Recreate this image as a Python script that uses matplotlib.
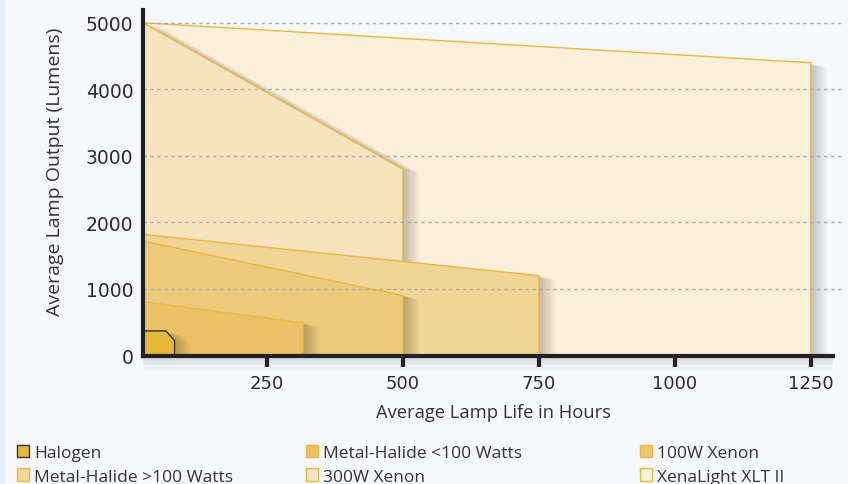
import matplotlib.pyplot as plt
from matplotlib.patches import Polygon, Patch
from matplotlib.transforms import offset_copy

# lamp data: (hours, lumens) outline points, drawn back to front
series_names = ["XenaLight XLT II", "300W Xenon", "100W Xenon",
                "Metal-Halide >100 Watts", "Metal-Halide <100 Watts", "Halogen"]
xenalight_hours = [22, 1250, 1250, 22]
xenalight_lumens = [5000, 4400, 0, 0]
xenon300_hours = [22, 500, 500, 22]
xenon300_lumens = [5000, 2800, 0, 0]
xenon100_hours = [22, 750, 750, 22]
xenon100_lumens = [1820, 1200, 0, 0]
mh_high_hours = [22, 500, 500, 22]
mh_high_lumens = [1720, 900, 0, 0]
mh_low_hours = [22, 316, 316, 22]
mh_low_lumens = [810, 490, 0, 0]
halogen_hours = [22, 64, 80, 80, 22]
halogen_lumens = [370, 370, 220, 0, 0]

fill_colors = ["#FAF0DA", "#F7E4BE", "#F0D596", "#ECCA7C", "#EBC165", "#E6B83A"]
legend_colors = ["#FBF1DC", "#F8E5C0", "#EDC673", "#F2D89A", "#EBC062", "#E6B83A"]
edge_colors = ["#E9B840"] * 5 + ["#333333"]

x_ticks = [250, 500, 750, 1000, 1250]
y_ticks = [0, 1000, 2000, 3000, 4000, 5000]

shapes = [
    (xenalight_hours, xenalight_lumens),
    (xenon300_hours, xenon300_lumens),
    (xenon100_hours, xenon100_lumens),
    (mh_high_hours, mh_high_lumens),
    (mh_low_hours, mh_low_lumens),
    (halogen_hours, halogen_lumens),
]

bg = "#F7F8FC"
fig = plt.figure(figsize=(8.48, 4.85), dpi=100, facecolor=bg)
ax = fig.add_axes([143 / 848, 128.5 / 485, 700.5 / 848, 346 / 485])
ax.set_facecolor("none")
ax.set_xlim(22, 1310)
ax.set_ylim(0, 5200)

# thin strip on the left edge
fig.patches.append(plt.Rectangle((0, 0), 4 / 848, 1, transform=fig.transFigure,
                                 color="#E6EDF5", zorder=0))

z = 2
for (hx, hy), fc, ec in zip(shapes, fill_colors, edge_colors):
    pts = list(zip(hx, hy))
    # soft drop shadow to the right
    for k in range(1, 15):
        tr = offset_copy(ax.transData, fig=fig, x=k * 1.2, y=-k * 0.3, units="dots")
        ax.add_patch(Polygon(pts, closed=True, facecolor="black", edgecolor="none",
                             alpha=0.017, transform=tr, zorder=z))
    ax.add_patch(Polygon(pts, closed=True, facecolor=fc, edgecolor=ec,
                         linewidth=1.0, zorder=z + 0.5))
    z += 1

# dashed grid on top
for yv in y_ticks[1:]:
    ax.plot([22, 1310], [yv, yv], color="#AAAAAA", lw=1.0, ls=(0, (2.5, 2.5)),
            zorder=20)

# shadow below the x axis
for k in range(1, 14):
    tr = offset_copy(ax.transData, fig=fig, x=0, y=-k * 1.1, units="dots")
    ax.plot([22, 1290], [0, 0], color="black", lw=1.5, alpha=0.07 * (1 - k / 14),
            transform=tr, clip_on=False, zorder=1, solid_capstyle="butt")

for s in ["top", "right"]:
    ax.spines[s].set_visible(False)
for s in ["left", "bottom"]:
    ax.spines[s].set_linewidth(3)
    ax.spines[s].set_color("#222222")
    ax.spines[s].set_zorder(30)
ax.spines["bottom"].set_bounds(22, 1290)

tick_font = "DejaVu Sans"
ax.set_xticks(x_ticks)
ax.set_xticklabels([str(v) for v in x_ticks], fontsize=13, color="#2A2A2A",
                   family=tick_font)
ax.set_yticks(y_ticks)
ax.set_yticklabels([str(v) for v in y_ticks], fontsize=13.5, color="#2A2A2A",
                   family=tick_font)
ax.tick_params(axis="x", length=8, width=3, color="#222222", pad=5)
ax.tick_params(axis="y", length=0, pad=7)

ax.set_xlabel("Average Lamp Life in Hours", fontsize=13.2, color="#333333",
              family="Open Sans", labelpad=8)
ax.set_ylabel("Average Lamp Output (Lumens)", fontsize=14, color="#333333",
              family="Open Sans")
ax.yaxis.set_label_coords(-0.113, 0.535)

# legend: three columns of two entries
handles = [Patch(facecolor=c, edgecolor=("#333333" if n == "Halogen" else "#E9B840"),
                 label=n) for n, c in zip(series_names, legend_colors)]
by_name = dict(zip(series_names, handles))
columns = [["Halogen", "Metal-Halide >100 Watts"],
           ["Metal-Halide <100 Watts", "300W Xenon"],
           ["100W Xenon", "XenaLight XLT II"]]
col_x = [10 / 848, 299 / 848, 633 / 848]
for names, cx in zip(columns, col_x):
    leg = fig.legend([by_name[n] for n in names], names, loc="upper left",
                     bbox_to_anchor=(cx, 46 / 485), frameon=False,
                     handlelength=0.7, handleheight=0.7, handletextpad=0.3,
                     labelspacing=0.42, borderaxespad=0,
                     prop={"family": ["Liberation Sans Narrow", "Open Sans"], "size": 12.5})
    for t in leg.get_texts():
        t.set_color("#333333")

fig.savefig("out.png", dpi=100, facecolor=bg)
